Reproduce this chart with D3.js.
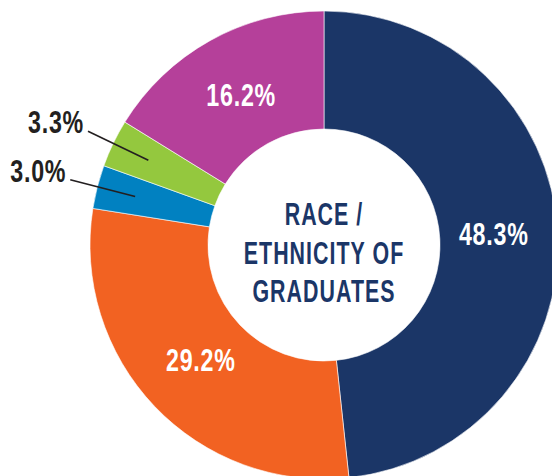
<!DOCTYPE html>
<html>
<head>
<meta charset="utf-8">
<script src="https://cdn.jsdelivr.net/npm/d3@7"></script>
<style>
  body { margin: 0; background: #fff; }
  svg { display: block; }
  text { font-family: "Liberation Sans", Arial, sans-serif; font-weight: bold; }
</style>
</head>
<body>
<div id="chart"></div>
<script>
// slices, clockwise from 12 o'clock
var groups = ["White", "Hispanic", "Asian", "Two or more", "Black"];
var shares = [48.3, 29.2, 3.0, 3.3, 16.2];
var colors = ["#1b3667", "#f26222", "#0181c1", "#94c83e", "#b5409a"];
var outside = [false, false, true, true, false]; // small slices get a leader line
var title = ["RACE /", "ETHNICITY OF", "GRADUATES"];

var width = 552, height = 476;
var cx = 324, cy = 245;
var outerR = 234, innerR = 116;
var squeeze = 0.75;   // the original uses a condensed face

var svg = d3.select("#chart")
    .append("svg")
    .attr("width", width)
    .attr("height", height)

var g = svg.append("g")
    .attr("transform", "translate(" + cx + "," + cy + ")")

var data = groups.map(function(d, i) {
    return {name: d, value: shares[i], color: colors[i], outside: outside[i]}
})

var pie = d3.pie()
    .sort(null)
    .value(function(d) { return d.value })

var arc = d3.arc()
    .innerRadius(innerR)
    .outerRadius(outerR)

var labelArc = d3.arc()
    .innerRadius(170)
    .outerRadius(170)

var arcs = pie(data)

g.selectAll("path")
    .data(arcs)
    .enter()
    .append("path")
    .attr("d", arc)
    .attr("fill", function(d) { return d.data.color })
    .attr("stroke", "#fff")
    .attr("stroke-width", 0.6)

// labels inside the ring
g.selectAll("g.inner")
    .data(arcs.filter(function(d) { return !d.data.outside }))
    .enter()
    .append("g")
    .attr("class", "inner")
    .attr("transform", function(d) { return "translate(" + labelArc.centroid(d) + ")" })
    .append("text")
    .attr("transform", "scale(" + squeeze + ",1)")
    .attr("text-anchor", "middle")
    .attr("dy", "0.3em")
    .attr("fill", "#fff")
    .style("font-size", "31px")
    .style("letter-spacing", "1px")
    .text(function(d) { return d.data.value.toFixed(1) + "%" })

// leader lines for the thin slices
function polar(r, a) { return [r * Math.sin(a), -r * Math.cos(a)] }
function mid(d) { return (d.startAngle + d.endAngle) / 2 }

var small = arcs.filter(function(d) { return d.data.outside })

g.selectAll("line.leader")
    .data(small)
    .enter()
    .append("line")
    .attr("class", "leader")
    .attr("x1", function(d) { return polar(195, mid(d))[0] })
    .attr("y1", function(d) { return polar(195, mid(d))[1] })
    .attr("x2", function(d) { return polar(262, mid(d))[0] })
    .attr("y2", function(d) { return polar(262, mid(d))[1] })
    .attr("stroke", "#231f20")
    .attr("stroke-width", 1.6)

g.selectAll("g.outer")
    .data(small)
    .enter()
    .append("g")
    .attr("class", "outer")
    .attr("transform", function(d) {
        var p = polar(262, mid(d));
        return "translate(" + (p[0] - 4) + "," + (p[1] + 2) + ")"
    })
    .append("text")
    .attr("transform", "scale(" + squeeze + ",1)")
    .attr("text-anchor", "end")
    .attr("fill", "#231f20")
    .style("font-size", "31px")
    .style("letter-spacing", "1px")
    .text(function(d) { return d.data.value.toFixed(1) + "%" })

// centre title
g.append("text")
    .attr("transform", "scale(0.69,1)")
    .attr("text-anchor", "middle")
    .attr("fill", "#1b3667")
    .style("font-size", "31px")
    .style("letter-spacing", "1.5px")
    .selectAll("tspan")
    .data(title)
    .enter()
    .append("tspan")
    .attr("x", 0)
    .attr("y", function(d, i) { return -20 + i * 38.5 })
    .text(function(d) { return d })
</script>
</body>
</html>
